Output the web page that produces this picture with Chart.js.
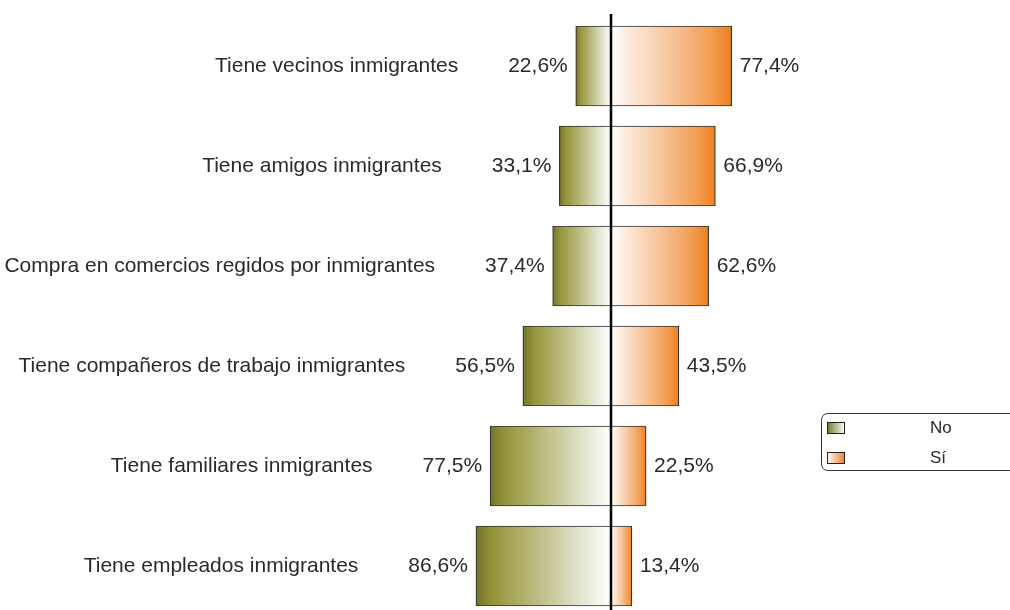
<!DOCTYPE html>
<html>
<head>
<meta charset="utf-8">
<script src="https://cdn.jsdelivr.net/npm/chart.js@4"></script>
<style>
html,body{margin:0;padding:0;background:#fff;}
#wrap{width:1010px;height:610px;position:relative;}
</style>
</head>
<body>
<div id="wrap"><canvas id="c" width="1010" height="610"></canvas></div>
<script>
const categories = [
  "Tiene vecinos inmigrantes",
  "Tiene amigos inmigrantes",
  "Compra en comercios regidos por inmigrantes",
  "Tiene compañeros de trabajo inmigrantes",
  "Tiene familiares inmigrantes",
  "Tiene empleados inmigrantes"
];
const noValues = [22.6, 33.1, 37.4, 56.5, 77.5, 86.6];
const siValues = [77.4, 66.9, 62.6, 43.5, 22.5, 13.4];
const seriesNames = ["No", "Sí"];

const FONT = '21px "Liberation Sans", Arial, sans-serif';
const fmt = v => v.toFixed(1).replace('.', ',') + '%';

function noGradient(ctx){
  const chart = ctx.chart;
  if (!chart.chartArea || ctx.type !== 'data') return '#96963a';
  const xs = chart.scales.x;
  const v = ctx.raw.x;
  const x0 = xs.getPixelForValue(v), x1 = xs.getPixelForValue(0);
  const g = chart.ctx.createLinearGradient(x0, 0, x1, 0);
  g.addColorStop(0, '#74742a');
  g.addColorStop(0.12, '#94943a');
  g.addColorStop(0.45, '#bcbc82');
  g.addColorStop(0.8, '#e6e8d4');
  g.addColorStop(1, '#ffffff');
  return g;
}
function siGradient(ctx){
  const chart = ctx.chart;
  if (!chart.chartArea || ctx.type !== 'data') return '#f5a060';
  const xs = chart.scales.x;
  const v = ctx.raw.x;
  const x0 = xs.getPixelForValue(0), x1 = xs.getPixelForValue(v);
  const g = chart.ctx.createLinearGradient(x0, 0, x1, 0);
  g.addColorStop(0, '#ffffff');
  g.addColorStop(0.12, '#fdeee2');
  g.addColorStop(0.5, '#f7c398');
  g.addColorStop(0.85, '#f29a4c');
  g.addColorStop(1, '#ef7f1e');
  return g;
}

const labelPlugin = {
  id: 'labels',
  afterDatasetsDraw(chart){
    const {ctx, scales:{x, y}} = chart;
    ctx.save();
    ctx.strokeStyle = '#000';
    ctx.lineWidth = 2.5;
    ctx.beginPath();
    ctx.moveTo(x.getPixelForValue(0), 14);
    ctx.lineTo(x.getPixelForValue(0), 610);
    ctx.stroke();

    ctx.font = FONT;
    ctx.fillStyle = '#2a2a2a';
    ctx.textBaseline = 'middle';
    categories.forEach((cat, i) => {
      const yc = y.getPixelForValue(i);
      const xl = x.getPixelForValue(-noValues[i]);
      const xr = x.getPixelForValue(siValues[i]);
      const t1 = fmt(noValues[i]);
      ctx.textAlign = 'right';
      ctx.fillText(t1, xl - 8, yc);
      const w = ctx.measureText(t1).width;
      ctx.fillText(cat, xl - 8 - w - 50, yc);
      ctx.textAlign = 'left';
      ctx.fillText(fmt(siValues[i]), xr + 8, yc);
    });

    const lx = 821.5, ly = 413.5, lw = 200, lh = 57, r = 7;
    ctx.strokeStyle = '#333';
    ctx.lineWidth = 1;
    ctx.beginPath();
    ctx.moveTo(lx + lw, ly);
    ctx.lineTo(lx + r, ly);
    ctx.quadraticCurveTo(lx, ly, lx, ly + r);
    ctx.lineTo(lx, ly + lh - r);
    ctx.quadraticCurveTo(lx, ly + lh, lx + r, ly + lh);
    ctx.lineTo(lx + lw, ly + lh);
    ctx.stroke();
    const sw = [
      ['#74742a', '#ffffff', 422.5],
      ['#ffffff', '#ef7f1e', 452.5]
    ];
    sw.forEach((s, k) => {
      const g = ctx.createLinearGradient(827, 0, 845, 0);
      g.addColorStop(0, s[0]); g.addColorStop(1, s[1]);
      ctx.fillStyle = g;
      ctx.fillRect(827.5, s[2], 17, 11);
      ctx.strokeStyle = '#222';
      ctx.strokeRect(827.5, s[2], 17, 11);
      ctx.fillStyle = '#2a2a2a';
      ctx.font = '17px "Liberation Sans", Arial, sans-serif';
      ctx.textAlign = 'left';
      ctx.fillText(seriesNames[k], 930, s[2] + 6);
    });
    ctx.restore();
  }
};

new Chart(document.getElementById('c'), {
  type: 'bar',
  data: {
    datasets: [
      {
        label: seriesNames[0],
        data: noValues.map((v, i) => ({x: -v, y: i})),
        backgroundColor: noGradient,
        borderColor: '#333',
        borderWidth: 1.2,
        borderSkipped: false,
        barThickness: 80,
        grouped: false
      },
      {
        label: seriesNames[1],
        data: siValues.map((v, i) => ({x: v, y: i})),
        backgroundColor: siGradient,
        borderColor: '#333',
        borderWidth: 1.2,
        borderSkipped: false,
        barThickness: 80,
        grouped: false
      }
    ]
  },
  options: {
    indexAxis: 'y',
    responsive: false,
    animation: false,
    devicePixelRatio: 1,
    layout: {padding: 0},
    plugins: {legend: {display: false}, tooltip: {enabled: false}},
    scales: {
      x: {type: 'linear', min: -391.7, max: 255.8, display: false, offset: false},
      y: {type: 'linear', min: -0.66, max: 5.44, reverse: true, display: false, offset: false}
    }
  },
  plugins: [labelPlugin]
});
</script>
</body>
</html>
